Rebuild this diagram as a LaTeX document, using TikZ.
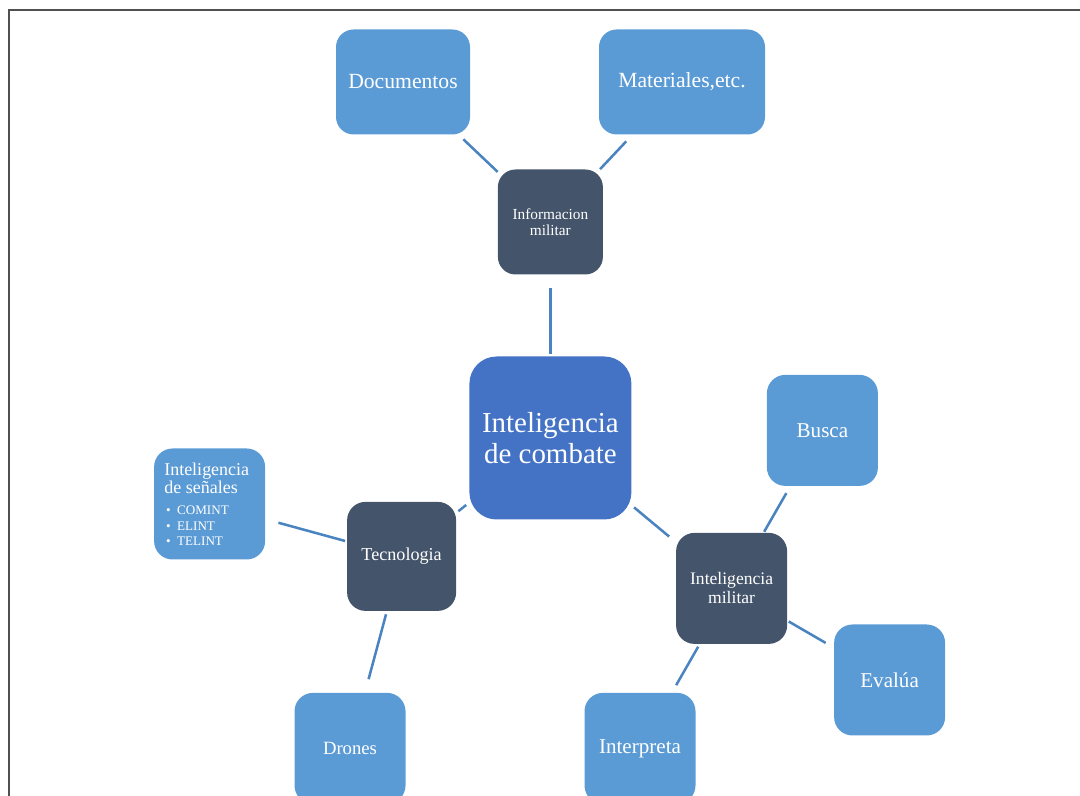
\documentclass[tikz,border=0pt]{standalone}
\usepackage{fontspec}
\setmainfont{Liberation Serif}
\usepackage{tikz}

\definecolor{leafblue}{HTML}{5B9BD5}
\definecolor{hubslate}{HTML}{44546A}
\definecolor{coreblue}{HTML}{4472C4}
\definecolor{linkblue}{HTML}{4A84C0}
\definecolor{framegray}{HTML}{505050}

\newcommand{\sigbullet}{\hspace*{1.4pt}\makebox[7.8pt][l]{\textbullet}}

\tikzset{
	box/.style={shape=rectangle, text=white, inner sep=2pt, align=center},
	leaf/.style={box, fill=leafblue, rounded corners=0.46cm, minimum width=2.775cm, minimum height=2.775cm},
	hub/.style={box, fill=hubslate, rounded corners=0.46cm, minimum width=2.725cm, minimum height=2.725cm},
	link/.style={linkblue, line width=1.8pt},
}

\begin{document}
\begin{tikzpicture}

	\clip (0,0) rectangle (27,19.9);
	\useasboundingbox (0,0) rectangle (27,19.9);

	\draw[framegray, line width=1.4pt] (0.225,-1) -- (0.225,19.65) -- (28,19.65);

	\node[box, fill=coreblue, rounded corners=0.68cm, minimum width=4.05cm, minimum height=4.075cm,
		font=\fontsize{20.6}{21.5}\selectfont] (core) at (13.76, 8.95) {Inteligencia\\de combate};

	\node[hub, minimum width=2.625cm, minimum height=2.625cm, rounded corners=0.44cm,
		font=\fontsize{10.9}{11.5}\selectfont] (info) at (13.76, 14.35) {Informacion\\militar};
	\node[leaf, minimum width=3.35cm, minimum height=2.625cm, rounded corners=0.44cm,
		font=\fontsize{15.4}{16}\selectfont] (doc) at (10.075, 17.85) {Documentos};
	\node[leaf, minimum width=4.15cm, minimum height=2.625cm, rounded corners=0.44cm,
		font=\fontsize{15.4}{16}\selectfont] (mat) at (17.05, 17.85) {Materiales,etc.};

	\node[hub, minimum width=2.775cm, minimum height=2.775cm,
		font=\fontsize{12.5}{13.5}\selectfont] (intel) at (18.29, 5.19) {Inteligencia\\militar};
	\node[leaf, font=\fontsize{15}{16}\selectfont] (busca) at (20.56, 9.14) {Busca};
	\node[leaf, font=\fontsize{15}{16}\selectfont] (evalua) at (22.24, 2.9) {Evalúa};
	\node[leaf, font=\fontsize{15}{16}\selectfont] (interpreta) at (16.0, 1.19) {Interpreta};

	\node[hub, font=\fontsize{12.9}{14}\selectfont] (tec) at (10.04, 5.99) {Tecnologia};
	\node[leaf, font=\fontsize{13.3}{14}\selectfont] (drones) at (8.75, 1.19) {Drones};
	\node[leaf, align=left, text width=64.5pt, inner xsep=7.1pt] (senales) at (5.24, 7.3)
		{\fontsize{12.8}{13}\selectfont Inteligencia\\de señales\par\vspace{4.5pt}
		 \fontsize{9.3}{10.8}\selectfont\sigbullet COMINT\\\sigbullet ELINT\\\sigbullet TELINT\par};

	\path[link] (doc) edge [shorten <=4.7pt] (info);
	\path[link] (mat) edge [shorten <=6.4pt] (info);
	\path[link] (info) edge [shorten <=9.6pt, shorten >=1.8pt] (core);

	\path[link] (core) edge [shorten <=2.7pt, shorten >=1.8pt] (tec);
	\path[link] (tec) edge [shorten <=1.3pt, shorten >=9.6pt] (senales);
	\path[link] (tec) edge [shorten <=2.3pt, shorten >=9.9pt] (drones);

	\path[link] (core) edge [shorten <=2.2pt, shorten >=6.2pt] (intel);
	\path[link] (intel) edge [shorten <=0.7pt, shorten >=5.7pt] (busca);
	\path[link] (intel) edge [shorten <=1.1pt, shorten >=6.7pt] (evalua);
	\path[link] (intel) edge [shorten <=2.1pt, shorten >=6.1pt] (interpreta);

\end{tikzpicture}
\end{document}
